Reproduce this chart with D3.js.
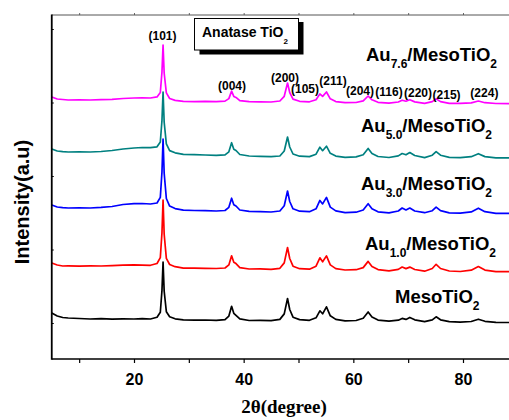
<!DOCTYPE html>
<html><head><meta charset="utf-8">
<script src="https://cdn.jsdelivr.net/npm/d3@7"></script>
<style>body{margin:0;background:#fff}svg{display:block}</style>
</head><body>
<svg id="chart" width="509" height="420"></svg>
<script>
// ---- data ----
const twoTheta = [5,6,7,8,10,12,14,16,18,20,21.5,23,24.2,24.8,25.1,25.3,25.5,25.9,26.5,27.5,29,31,33,35,36.6,37.3,37.8,38.2,38.6,39.3,41,43,45,46.6,47.4,48.0,48.4,49.0,50.2,52,53.2,53.9,54.4,55.1,55.8,56.8,58.5,60.5,61.8,62.7,63.4,64.5,66.5,68.2,68.9,69.6,70.3,71.2,73,74.4,75.1,75.9,77.5,79.5,81.5,82.8,84,86,88.5];

const meso = [460,430,415,410,405,400,403,398,402,400,403,400,418,468,685,970,680,473,422,402,392,388,390,387,394,429,527,457,437,401,385,387,384,396,451,605,495,418,394,387,412,482,452,522,432,396,382,385,407,470,420,389,378,388,406,396,416,392,373,392,422,392,374,369,375,398,377,366,365];
const au10 = [960,940,930,932,928,931,930,934,938,941,939,937,955,1014,1262,1590,1250,1007,945,923,908,909,906,905,910,941,1032,967,954,914,900,901,897,907,961,1115,1005,928,903,898,928,1012,972,1031,941,904,890,893,914,976,926,894,882,896,920,904,919,895,878,905,947,905,880,875,888,925,889,874,873];
const au30 = [1540,1520,1513,1510,1512,1510,1516,1525,1545,1553,1555,1550,1560,1616,1870,2200,1860,1605,1529,1504,1488,1485,1483,1480,1485,1517,1608,1543,1530,1490,1476,1473,1470,1480,1533,1680,1575,1502,1478,1473,1502,1586,1551,1616,1519,1481,1464,1468,1490,1553,1503,1472,1461,1480,1510,1490,1510,1480,1463,1483,1519,1483,1462,1458,1471,1508,1473,1457,1457];
const au50 = [2100,2080,2073,2070,2072,2070,2075,2085,2100,2110,2115,2113,2122,2170,2385,2670,2370,2151,2084,2062,2046,2043,2040,2036,2041,2072,2163,2098,2085,2045,2030,2026,2023,2030,2080,2220,2120,2050,2028,2024,2048,2118,2083,2128,2057,2029,2017,2021,2043,2106,2056,2025,2015,2031,2055,2042,2065,2035,2014,2038,2074,2038,2016,2013,2023,2053,2024,2012,2011];
const au76 = [2620,2600,2595,2590,2592,2590,2593,2596,2605,2610,2612,2610,2621,2665,2870,3140,2860,2661,2605,2586,2576,2574,2576,2574,2579,2604,2679,2626,2616,2584,2573,2572,2570,2580,2627,2760,2665,2599,2577,2572,2592,2651,2626,2670,2602,2574,2563,2565,2581,2630,2592,2567,2559,2570,2588,2578,2592,2571,2557,2574,2601,2574,2556,2556,2561,2580,2563,2555,2554];

const seriesValues = [au76, au50, au30, au10, meso];           // drawn bottom-to-top in this order
const seriesColors = ["#ff00ff", "#008080", "#0000ff", "#ff0000", "#000000"];
const seriesMain = ["Au", "Au", "Au", "Au", "MesoTiO"];
const seriesSub1 = ["7.6", "5.0", "3.0", "1.0", ""];
const seriesMid = ["/MesoTiO", "/MesoTiO", "/MesoTiO", "/MesoTiO", ""];

const hklLabels = ["(101)","(004)","(200)","(105)","(211)","(204)","(116)","(220)","(215)","(224)"];
const hklLabelAngles = [25.2, 37.87, 47.54, 51.19, 56.29, 61.22, 66.5, 71.8, 77.0, 83.9];
const hklLabelLevels = [3190, 2690, 2775, 2660, 2740, 2640, 2630, 2625, 2605, 2620];

const xTickValues = [10,20,30,40,50,60,70,80];
const xTickLabels = [20,40,60,80];
const yTickValues = [360,1095,1830,2565,3300];

// ---- layout ----
const svg = d3.select("#chart");
const L = 51.75, T = 15, B = 359;
const x = d3.scaleLinear().domain([5, 90]).range([L, L + 85 * 5.4833]);
const y = d3.scaleLinear().domain([0, 3440]).range([B, T]);
const sans = "'Liberation Sans', Arial, Helvetica, sans-serif";
const serif = "'Liberation Serif', 'Times New Roman', Times, serif";

svg.append("rect").attr("width", 509).attr("height", 420).attr("fill", "#fff");

svg.append("defs").append("clipPath").attr("id", "clip")
  .append("rect").attr("x", L).attr("y", T).attr("width", 600).attr("height", B - T);

// lines
const line = d3.line().x((d, i) => x(twoTheta[i])).y(d => y(d));
const g = svg.append("g").attr("clip-path", "url(#clip)");
seriesValues.forEach((vals, k) => {
  g.append("path").datum(vals)
    .attr("d", line)
    .attr("fill", "none")
    .attr("stroke", seriesColors[k])
    .attr("stroke-width", 1.7)
    .attr("stroke-linejoin", "round");
});

// axes
const xAxis = d3.axisBottom(x).tickValues(xTickValues).tickSize(4).tickSizeOuter(0)
  .tickFormat(d => xTickLabels.includes(d) ? d : "");
const gx = svg.append("g").attr("transform", `translate(0,${B})`).call(xAxis);
gx.select(".domain").remove();
gx.selectAll(".tick line").attr("stroke", "#000").attr("stroke-width", 1.2);
gx.selectAll(".tick text").attr("font-family", sans).attr("font-weight", "bold")
  .attr("font-size", 16).attr("fill", "#000").attr("dy", null).attr("y", 26);

const xTop = d3.axisTop(x).tickValues(xTickValues).tickSize(2).tickSizeOuter(0).tickFormat("");
const gt = svg.append("g").attr("transform", `translate(0,${T})`).call(xTop);
gt.select(".domain").remove();
gt.selectAll(".tick line").attr("stroke", "#666");

const yAxis = d3.axisRight(y).tickValues(yTickValues).tickSize(2).tickSizeOuter(0).tickFormat("");
const gy = svg.append("g").attr("transform", `translate(${L},0)`).call(yAxis);
gy.select(".domain").remove();
gy.selectAll(".tick line").attr("stroke", "#000");

// frame
svg.append("line").attr("x1", L).attr("x2", 509).attr("y1", T).attr("y2", T)
  .attr("stroke", "#555").attr("stroke-width", 1);
svg.append("line").attr("x1", L).attr("x2", 509).attr("y1", B).attr("y2", B)
  .attr("stroke", "#000").attr("stroke-width", 1.6);
svg.append("line").attr("x1", L).attr("x2", L).attr("y1", T - 0.5).attr("y2", B + 0.8)
  .attr("stroke", "#000").attr("stroke-width", 1.8);

// hkl labels
hklLabels.forEach((t, i) => {
  svg.append("text").attr("x", x(hklLabelAngles[i])).attr("y", y(hklLabelLevels[i]))
    .attr("text-anchor", "middle").attr("font-family", sans).attr("font-weight", "bold")
    .attr("font-size", 12).attr("fill", "#000").text(t);
});

// Anatase box
svg.append("rect").attr("x", 199.5).attr("y", 22).attr("width", 104).attr("height", 32.5).attr("fill", "#000");
svg.append("rect").attr("x", 194.5).attr("y", 18.5).attr("width", 104).attr("height", 31.5)
  .attr("fill", "#fff").attr("stroke", "#000").attr("stroke-width", 1);
const at = svg.append("text").attr("x", 202).attr("y", 37).attr("font-family", sans)
  .attr("font-weight", "bold").attr("font-size", 14).attr("fill", "#000");
at.append("tspan").text("Anatase TiO");
at.append("tspan").attr("font-size", 8).attr("dy", 7).text("2");

// series labels
const labelPos = [[366, 61], [361, 132], [361, 190], [365, 250], [395, 303]];
seriesMain.forEach((m, k) => {
  const t = svg.append("text").attr("x", labelPos[k][0]).attr("y", labelPos[k][1])
    .attr("font-family", sans).attr("font-weight", "bold").attr("font-size", 18.5).attr("fill", "#000");
  t.append("tspan").text(m);
  if (seriesSub1[k]) {
    t.append("tspan").attr("font-size", 12).attr("dy", 7).text(seriesSub1[k]);
    t.append("tspan").attr("dy", -7).text(seriesMid[k]);
  }
  t.append("tspan").attr("font-size", 12).attr("dy", 7).text("2");
});

// axis titles
svg.append("text").attr("transform", "translate(28.5,202) rotate(-90)")
  .attr("text-anchor", "middle").attr("font-family", sans).attr("font-weight", "bold")
  .attr("font-size", 20).attr("fill", "#000").text("Intensity(a.u)");
svg.append("text").attr("x", 284).attr("y", 413).attr("text-anchor", "middle")
  .attr("font-family", serif).attr("font-weight", "bold").attr("font-size", 19)
  .attr("fill", "#000").text("2θ(degree)");
</script>
</body></html>
